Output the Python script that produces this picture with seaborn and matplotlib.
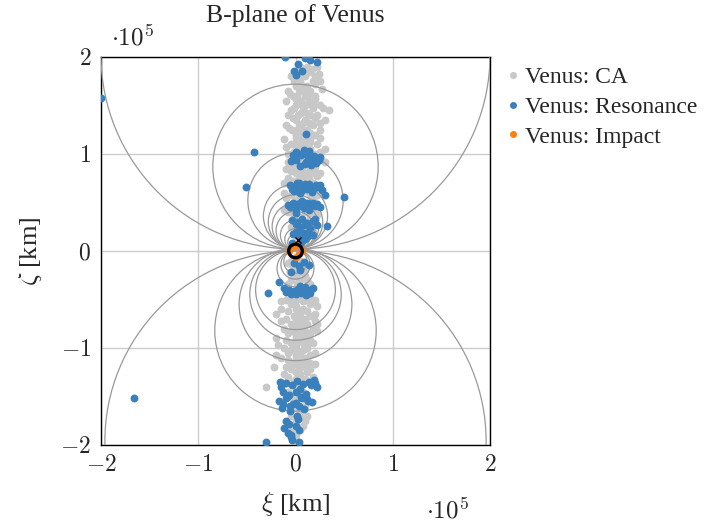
import numpy as np
import pandas as pd
import matplotlib
matplotlib.use("Agg")
import matplotlib.pyplot as plt
from matplotlib.patches import Circle
from matplotlib.lines import Line2D
import seaborn as sns

# ---- data (units of 1e5 km) ----
ca_xi = [0.12, 0.22, 0.05, 0.0, 0.15, 0.08, -0.05, 0.1, 0.2, 0.02, 0.05, 0.18, -0.02, 0.25,
         0.0, 0.12, 0.08, -0.08, 0.05, 0.15, 0.02, 0.1, 0.2, -0.03, -0.1, 0.06, 0.14,
         0.0, 0.1, 0.25, 0.18, -0.05, 0.08, 0.34, 0.03, 0.15, -0.08, 0.22, 0.0, 0.1, 0.3,
         -0.1, 0.05, 0.18, 0.02, 0.12, -0.04, 0.25, 0.0, 0.08, 0.2, -0.12, 0.05, 0.15,
         0.0, 0.1, 0.22, -0.05, 0.05, 0.15, 0.3, -0.08, 0.12, 0.2, 0.0, 0.08, 0.25,
         -0.05, 0.1, 0.18, 0.02, 0.05, 0.15, -0.1, 0.0, 0.1, 0.2, 0.25, -0.08, 0.05, 0.14,
         0.02, 0.18, -0.12, 0.0, 0.1, 0.2, -0.05, 0.15, 0.22, 0.05, -0.1, 0.0, 0.1, 0.2,
         -0.08, 0.05, 0.15, 0.0, 0.1, -0.05, 0.08, 0.18, 0.0, 0.05, 0.0, 0.05, -0.05,
         -0.03, 0.06, 0.0, 0.1, -0.05, 0.05, 0.12,
         -0.1, 0.0, 0.1, 0.2, -0.05, 0.15, 0.0, 0.08, -0.15, -0.2, 0.05, 0.2, 0.0, 0.1,
         -0.1, -0.05, 0.12, 0.22, 0.02, -0.12, 0.18, -0.08, 0.05, 0.15, 0.0, 0.1, -0.2,
         -0.05, 0.08, 0.18, 0.0, -0.12, 0.12, -0.08, 0.05, 0.2, 0.0, 0.1, -0.15, -0.05,
         0.15, -0.1, 0.05, 0.1, -0.22, 0.0, 0.12, -0.08, 0.05, 0.18, -0.02, -0.15, -0.3,
         0.0, 0.05, -0.05, 0.0, 0.1, -0.05, 0.05, 0.12, -0.03, 0.08, 0.0,
         0.17, 0.07, 0.24, 0.03, 0.2, 0.1, 0.27, -0.06, 0.14, 0.0, 0.2, 0.04, 0.13,
         -0.02, 0.18, 0.28, 0.06, 0.12, -0.03, 0.2, 0.08, 0.14, 0.25, -0.07, 0.06,
         0.03, 0.15, 0.0, 0.1, 0.25, 0.05, 0.15, -0.1, 0.0, 0.25, -0.02, 0.05, 0.17,
         -0.08, 0.13, 0.3, 0.0, 0.2, -0.05, 0.07, 0.15, 0.1, 0.22, -0.03, 0.08,
         0.05, -0.12, 0.25, 0.0, 0.18, 0.15, -0.12, -0.02, 0.22, 0.12, 0.03, -0.02, 0.14,
         0.02, 0.1, -0.02, 0.04,
         0.02, -0.08, 0.1, 0.03, -0.06, 0.06, 0.0, 0.1, -0.08, 0.02, 0.15,
         -0.05, 0.05, 0.15, -0.15, 0.08, 0.0, 0.22, -0.08, 0.12, -0.02, 0.15,
         0.05, -0.15, 0.2, 0.0, 0.08, -0.05, 0.1, 0.22, 0.0, 0.12, -0.1, 0.05, 0.15,
         0.0, 0.12, -0.18, -0.05, 0.08, 0.0, 0.15, -0.2, -0.08, 0.05, 0.0, 0.1, 0.2,
         -0.05, 0.15, -0.12, 0.05, 0.0, 0.1, -0.08, 0.08, -0.02, 0.12, -0.05, 0.05,
         0.0, 0.1, -0.05, 0.05, -0.02]
ca_zeta = [1.9, 1.9, 1.9, 1.85, 1.85, 1.85, 1.8, 1.8, 1.8, 1.8, 1.75, 1.75, 1.75, 1.75,
           1.7, 1.7, 1.7, 1.65, 1.65, 1.65, 1.6, 1.6, 1.6, 1.6, 1.55, 1.55, 1.55,
           1.5, 1.5, 1.5, 1.5, 1.45, 1.45, 1.45, 1.4, 1.4, 1.4, 1.4, 1.35, 1.35, 1.35,
           1.3, 1.3, 1.3, 1.25, 1.25, 1.25, 1.25, 1.2, 1.2, 1.2, 1.15, 1.15, 1.15,
           1.1, 1.1, 1.1, 1.1, 1.05, 1.05, 1.05, 1.0, 1.0, 1.0, 0.95, 0.95, 0.95,
           0.9, 0.9, 0.9, 0.9, 0.85, 0.85, 0.85, 0.8, 0.8, 0.8, 0.8, 0.75, 0.75, 0.75,
           0.7, 0.7, 0.7, 0.62, 0.62, 0.62, 0.58, 0.58, 0.58, 0.55, 0.55, 0.4, 0.4, 0.4,
           0.4, 0.35, 0.35, 0.25, 0.25, 0.25, 0.2, 0.2, 0.1, 0.1, -0.1, -0.1, -0.1,
           -0.15, -0.15, -0.2, -0.2, -0.3, -0.3, -0.3,
           -0.5, -0.5, -0.5, -0.5, -0.55, -0.55, -0.6, -0.6, -0.6, -0.65, -0.65, -0.65, -0.7, -0.7,
           -0.7, -0.75, -0.75, -0.75, -0.8, -0.8, -0.8, -0.85, -0.85, -0.85, -0.9, -0.9, -0.9,
           -0.95, -0.95, -0.95, -1.0, -1.0, -1.0, -1.05, -1.05, -1.05, -1.1, -1.1, -1.1, -1.15,
           -1.15, -1.2, -1.2, -1.2, -1.2, -1.25, -1.25, -1.3, -1.3, -1.3, -1.35, -1.35, -1.4,
           -1.4, -1.5, -1.5, -1.6, -1.6, -1.7, -1.7, -1.7, -1.8, -1.8, -1.9,
           1.88, 1.82, 1.82, 1.72, 1.72, 1.67, 1.67, 1.62, 1.62, 1.57, 1.57, 1.52, 1.52,
           1.47, 1.47, 1.47, 1.42, 1.42, 1.37, 1.37, 1.32, 1.32, 1.32, 1.27, 1.27,
           1.22, 1.22, 1.17, 1.17, 1.17, 1.12, 1.12, 1.07, 1.07, 1.02, 1.02, 0.97, 0.97,
           0.92, 0.92, 0.92, 0.87, 0.87, 0.82, 0.82, 0.82, 0.77, 0.77, 0.72, 0.72,
           0.6, 0.6, 0.6, 0.53, 0.53, 0.42, 0.42, 0.37, 0.37, 0.3, 0.3, 0.22, 0.22,
           0.15, 0.15, 0.08, 0.08,
           -0.08, -0.12, -0.12, -0.18, -0.22, -0.22, -0.26, -0.26, -0.34, -0.34, -0.34,
           -0.48, -0.48, -0.48, -0.52, -0.52, -0.57, -0.57, -0.62, -0.62, -0.67, -0.67,
           -0.72, -0.72, -0.72, -0.77, -0.77, -0.82, -0.82, -0.82, -0.87, -0.87, -0.92, -0.92, -0.92,
           -0.97, -0.97, -0.97, -1.02, -1.02, -1.07, -1.07, -1.07, -1.12, -1.12, -1.17, -1.17, -1.17,
           -1.22, -1.22, -1.27, -1.27, -1.32, -1.32, -1.45, -1.45, -1.55, -1.55, -1.65, -1.65,
           -1.75, -1.75, -1.85, -1.85, -1.95]

res_xi = [-0.11, 0.03, 0.10, 0.15, 0.22, -0.02, 0.01, 0.07, -2.0, -0.43, 0.11,
          0.0, 0.03, 0.08, 0.13, 0.18, -0.05, 0.21, 0.05, 0.11, 0.16, -0.01, 0.24, 0.09,
          -0.51, 0.50, 0.30, 0.32, 0.01,
          -0.06, 0.0, 0.04, 0.09, 0.14, 0.19, 0.23, 0.27, -0.02, 0.07, 0.12, 0.17,
          -0.08, -0.03, 0.02, 0.06, 0.11, 0.16, 0.2, 0.25, 0.0, 0.09, 0.14,
          -0.04, 0.02, 0.07, 0.12, 0.18, 0.22, 0.05, 0.15,
          -0.03, 0.03, 0.08, 0.13, 0.18, 0.1,
          -0.02, 0.04, 0.09, 0.14,
          -0.28, -0.17, -0.12, -0.07, -0.02, 0.03, 0.08, 0.13, 0.18, -0.05, 0.06, 0.11,
          -0.16, -0.1, -0.04, 0.02, 0.08, 0.14, 0.19, 0.22, -0.13, -0.07, 0.05, 0.11,
          -0.17, -0.1, -0.03, 0.06, 0.12, 0.17, -0.14, -0.06, 0.0, 0.09,
          -0.1, 0.03, -0.12, 0.04, -0.08, -0.05, -0.04, -0.3, 0.04, -1.66,
          0.06, 0.01, 0.14, 0.19, -0.03, 0.1, 0.2, 0.25,
          0.02, 0.1, 0.16, 0.21, -0.04, 0.05, 0.25, 0.13,
          -0.06, 0.04, 0.13, 0.18, 0.22, 0.07,
          0.0, 0.1, 0.2, 0.0, 0.07, 0.12, -0.04, 0.06,
          -0.05, 0.05, -0.1, 0.0, 0.1, 0.15, 0.05,
          -0.15, 0.0, 0.16, 0.2, -0.09, 0.07, -0.13, 0.13, 0.04, -0.06, 0.02, -0.07, 0.01, -0.05]
res_zeta = [2.0, 1.93, 1.99, 1.97, 1.95, 1.86, 1.81, 1.86, 1.58, 1.02, 1.21,
            1.02, 1.0, 1.01, 0.97, 0.95, 0.93, 0.91, 0.88, 0.92, 0.89, 0.96, 0.94, 1.04,
            0.66, 0.56, 0.58, 0.26, 0.39,
            0.68, 0.66, 0.7, 0.67, 0.69, 0.65, 0.66, 0.63, 0.62, 0.63, 0.64, 0.61,
            0.47, 0.5, 0.48, 0.51, 0.49, 0.47, 0.46, 0.45, 0.43, 0.44, 0.42,
            0.32, 0.3, 0.33, 0.29, 0.31, 0.27, 0.25, 0.24,
            0.18, 0.16, 0.19, 0.15, 0.17, 0.12,
            -0.12, -0.15, -0.11, -0.14,
            -0.43, -0.32, -0.38, -0.4, -0.41, -0.39, -0.42, -0.4, -0.38, -0.44, -0.43, -0.45,
            -1.35, -1.36, -1.38, -1.34, -1.37, -1.35, -1.33, -1.4, -1.45, -1.48, -1.42, -1.47,
            -1.55, -1.52, -1.58, -1.5, -1.53, -1.56, -1.62, -1.6, -1.57, -1.63,
            -1.75, -1.73, -1.82, -1.85, -1.88, -1.92, -1.95, -1.97, -1.97, -1.52,
            0.99, 0.94, 1.03, 0.98, 0.99, 0.9, 0.92, 0.97,
            0.7, 0.69, 0.63, 0.68, 0.64, 0.6, 0.68, 0.66,
            0.45, 0.46, 0.5, 0.49, 0.48, 0.52,
            0.28, 0.27, 0.33, 0.2, 0.14, 0.19, 0.08, 0.09,
            -0.22, -0.2, -0.42, -0.44, -0.37, -0.43, -0.36,
            -1.4, -1.45, -1.38, -1.36, -1.5, -1.52, -1.58, -1.55, -1.6, -1.65, -1.7, -1.78, -1.8, -1.9]

imp_xi = [-0.07, 0.07, 0.0, 0.0, -0.04, 0.04]
imp_zeta = [0.0, 0.0, 0.06, -0.06, 0.04, -0.03]

# Valsecchi circles: centre on zeta axis and radius
circ_center = [2.02, 0.87, 0.52, 0.36, 0.30, 0.255, 0.21, 0.165, 0.12, 0.09,
               -1.96, -0.82, -0.55, -0.45, -0.40, -0.18, -0.14, -0.11]
circ_radius = [2.0, 0.85, 0.49, 0.33, 0.28, 0.24, 0.2, 0.155, 0.11, 0.08,
               1.96, 0.83, 0.58, 0.47, 0.41, 0.19, 0.15, 0.12]

ticks = [-2, -1, 0, 1, 2]
labels = ["Venus: CA", "Venus: Resonance", "Venus: Impact"]
colors = ["#c8c8c8", "#3a80bd", "#ff7f0e"]

# ---- style ----
sns.set_style("white")
plt.rcParams["font.family"] = ["Liberation Serif", "DejaVu Serif"]
plt.rcParams["mathtext.fontset"] = "cm"

df = pd.DataFrame({
    "xi": ca_xi + res_xi + imp_xi,
    "zeta": ca_zeta + res_zeta + imp_zeta,
    "kind": [labels[0]] * len(ca_xi) + [labels[1]] * len(res_xi) + [labels[2]] * len(imp_xi),
})

fig = plt.figure(figsize=(7.27, 5.22), dpi=100)
ax = fig.add_axes([101 / 727, 77 / 522, 389 / 727, 388 / 522])

ax.set_xlim(-2, 2)
ax.set_ylim(-2, 2)
ax.set_xticks(ticks)
ax.set_yticks(ticks)
ax.grid(True, color="#cccccc", linewidth=1.0, zorder=0)
ax.set_axisbelow(True)

sns.scatterplot(data=df[df.kind == labels[0]], x="xi", y="zeta", color=colors[0],
                s=32, linewidth=0, ax=ax, legend=False, zorder=2)

for c, r in zip(circ_center, circ_radius):
    ax.add_patch(Circle((0, c), r, fill=False, edgecolor="#999999", linewidth=0.9, zorder=3))

sns.scatterplot(data=df[df.kind == labels[1]], x="xi", y="zeta", color=colors[1],
                s=32, linewidth=0, ax=ax, legend=False, zorder=4)
sns.scatterplot(data=df[df.kind == labels[2]], x="xi", y="zeta", color=colors[2],
                s=28, linewidth=0, ax=ax, legend=False, zorder=5)

# Venus disk and marker
ax.add_patch(Circle((0, 0), 0.07, fill=False, edgecolor="black", linewidth=2.4, zorder=6))
ax.plot([0.03], [0.11], marker="x", color="black", markersize=5, mew=1.0, zorder=6)

ax.tick_params(direction="in", length=5, color="#888888", labelsize=17, pad=7)
ax.set_xticklabels([f"${t}$" for t in ticks])
ax.set_yticklabels([f"${t}$" for t in ticks])
for s in ax.spines.values():
    s.set_color("black")
    s.set_linewidth(1.0)

ax.set_xlabel(r"$\xi$ [km]", fontsize=19, labelpad=10)
ax.set_ylabel(r"$\zeta$ [km]", fontsize=19, labelpad=12)
ax.set_title("B-plane of Venus", fontsize=18.5, pad=25)

fig.text(132 / 727, 1 - 37 / 522, r"$\cdot 10^5$", fontsize=18, ha="center", va="center")
fig.text(447 / 727, 1 - 510 / 522, r"$\cdot 10^5$", fontsize=18, ha="center", va="center")

handles = [Line2D([], [], linestyle="", marker="o", markersize=4, color=col) for col in colors]
fig.legend(handles, labels, loc="upper left", bbox_to_anchor=(492 / 727, 1 - 57 / 522),
           frameon=False, fontsize=17, handletextpad=0.0, handlelength=1.0,
           labelspacing=0.35, borderaxespad=0)

fig.savefig("out.png", dpi=100)
